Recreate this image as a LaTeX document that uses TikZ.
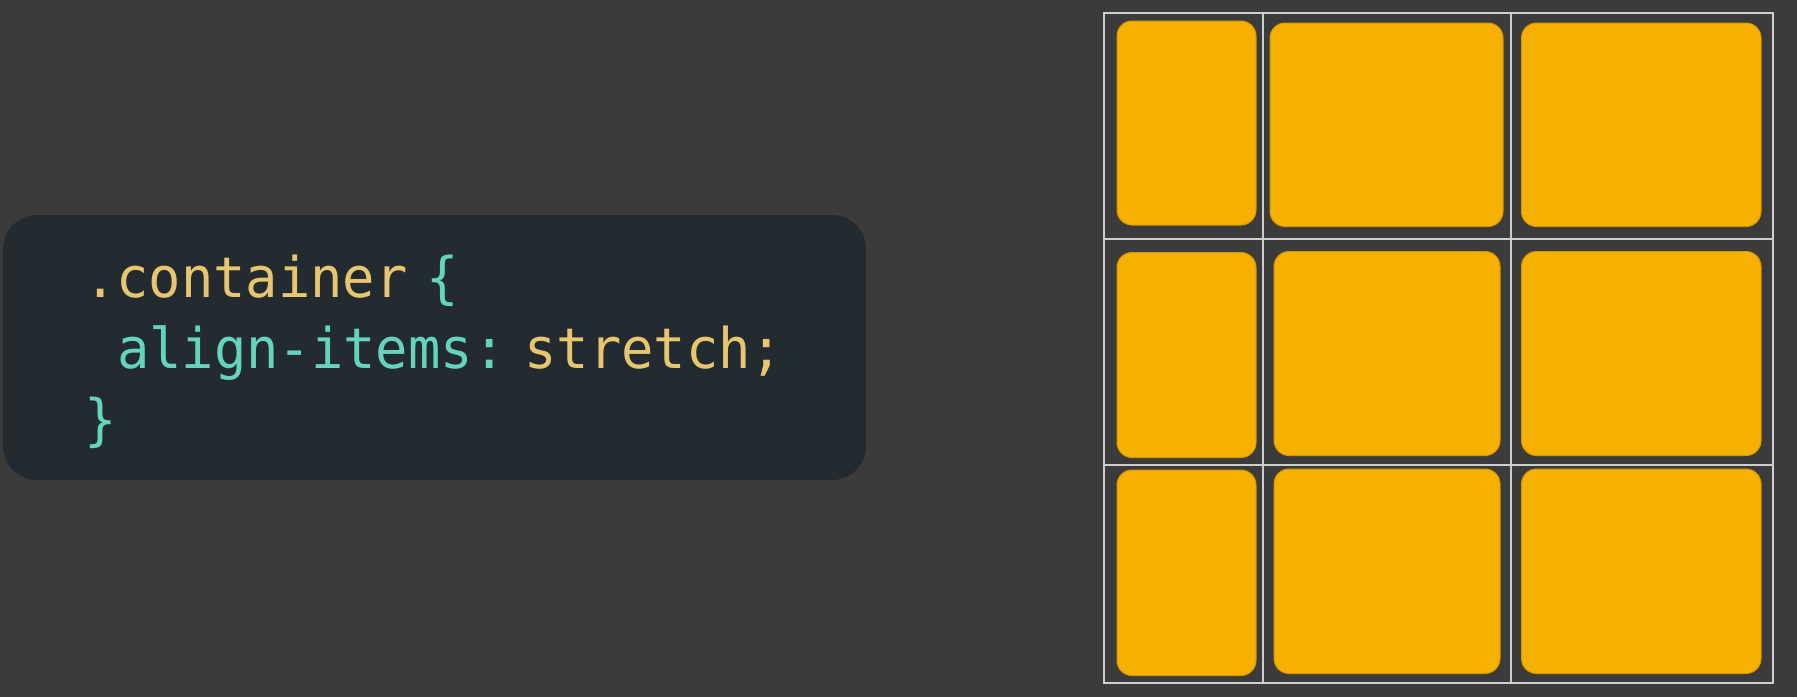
\documentclass[tikz,border=0pt]{standalone}
\usepackage{fontspec}
\newfontfamily\codefont[FakeStretch=0.96]{DejaVu Sans Mono}
\usetikzlibrary{positioning}

\definecolor{pagebg}{RGB}{59,59,59}
\definecolor{codebg}{RGB}{35,42,48}
\definecolor{itemfill}{RGB}{246,177,0}
\definecolor{itemedge}{RGB}{214,150,0}
\definecolor{gridline}{RGB}{205,205,205}
\definecolor{codeyellow}{RGB}{232,198,112}
\definecolor{codeteal}{RGB}{100,212,190}

\begin{document}
\begin{tikzpicture}[
    x=0.5pt, y=-0.5pt,
    every node/.style={inner sep=0pt, outer sep=0pt},
    codeline/.style={anchor=base west, font=\codefont\fontsize{28}{36}\selectfont},
    item/.style={fill=itemfill, draw=itemedge, line width=0.5pt, rounded corners=7.5pt},
    gridrule/.style={draw=gridline, line width=1pt}
]
\fill[pagebg] (0,0) rectangle (1797,697);
\useasboundingbox (0,0) rectangle (1797,697);

\fill[codebg, rounded corners=17pt] (3,215) rectangle (866,480);
\node[codeline] (sel) at (84,297) {\textcolor{codeyellow}{.container}\hspace{9.5pt}\textcolor{codeteal}{\{}};
\node[codeline] (decl) at (117,368) {\textcolor{codeteal}{align-items:}\hspace{9.5pt}\textcolor{codeyellow}{stretch;}};
\node[codeline] (close) at (84,439) {\textcolor{codeteal}{\}}};

\draw[item] (1117,21) rectangle (1256,225);
\draw[item] (1270,23) rectangle (1503,226.5);
\draw[item] (1521.5,23) rectangle (1761,226.5);
\draw[item] (1117,252.5) rectangle (1256,457.5);
\draw[item] (1274,251.5) rectangle (1500,455.5);
\draw[item] (1521.5,251.5) rectangle (1761,455.5);
\draw[item] (1117,470) rectangle (1256,675.5);
\draw[item] (1274,469) rectangle (1500,673.5);
\draw[item] (1521.5,469) rectangle (1761,673.5);

\draw[gridrule] (1104,12.7) rectangle (1773,682.7);
\draw[gridrule] (1263,12.7) -- (1263,682.7);
\draw[gridrule] (1510.5,12.7) -- (1510.5,682.7);
\draw[gridrule] (1104,238.7) -- (1773,238.7);
\draw[gridrule] (1104,464.7) -- (1773,464.7);
\end{tikzpicture}
\end{document}
